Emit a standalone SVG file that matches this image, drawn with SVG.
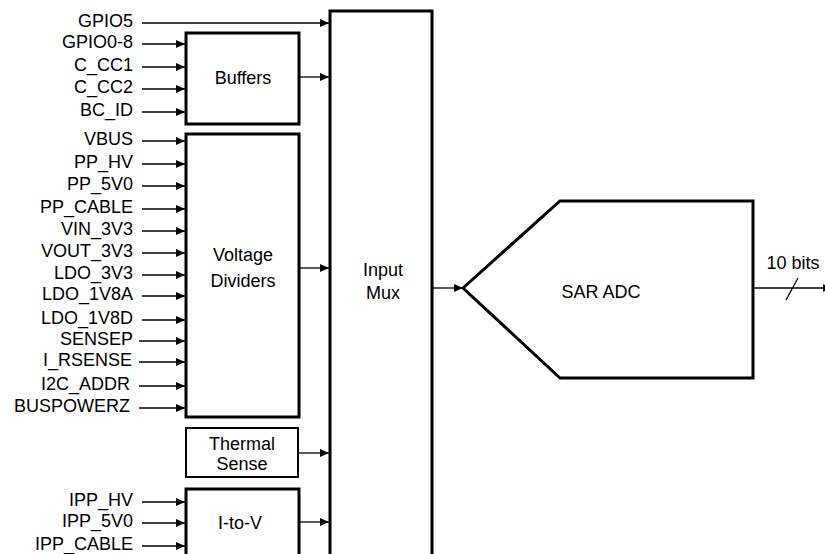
<svg xmlns="http://www.w3.org/2000/svg" width="825" height="554" viewBox="0 0 825 554">
<defs>
<marker id="ah" markerUnits="userSpaceOnUse" markerWidth="10" markerHeight="9" refX="9" refY="4" orient="auto">
<path d="M0,0 L9,4 L0,8 Z" fill="#000"/>
</marker>
<style>
text{font-family:"Liberation Sans",Arial,sans-serif;font-size:18px;fill:#000}
.lbl{text-anchor:end}
.c{text-anchor:middle}
.blk{fill:#fff;stroke:#000;stroke-width:3}
.thin{fill:#fff;stroke:#000;stroke-width:2}
.w{stroke:#000;stroke-width:1.3;fill:none}
.a{marker-end:url(#ah)}
</style>
</defs>
<rect width="825" height="554" fill="#fff"/>

<g id="input-mux">
<rect class="blk" x="330" y="11" width="102" height="560"/>
<text class="c" x="383" y="276">Input</text>
<text class="c" x="383" y="299">Mux</text>
</g>

<g id="buffers">
<rect class="blk" x="186" y="33" width="113" height="91"/>
<text class="c" x="243" y="84">Buffers</text>
</g>

<g id="voltage-dividers">
<rect class="blk" x="186" y="134" width="113" height="283"/>
<text class="c" x="243" y="261">Voltage</text>
<text class="c" x="243" y="287">Dividers</text>
</g>

<g id="thermal-sense">
<rect class="thin" x="186" y="428" width="112" height="49"/>
<text class="c" x="242" y="450">Thermal</text>
<text class="c" x="242" y="470">Sense</text>
</g>

<g id="i-to-v">
<rect class="blk" x="186" y="489" width="113" height="80"/>
<text class="c" x="240" y="529">I-to-V</text>
</g>

<g id="sar-adc">
<path class="blk" d="M463,288 L560,201 L753,201 L753,378 L560,378 Z"/>
<text class="c" x="601" y="298">SAR ADC</text>
</g>

<g id="labels">
<text class="lbl" x="133" y="27">GPIO5</text>
<text class="lbl" x="133" y="48">GPIO0-8</text>
<text class="lbl" x="133" y="71">C_CC1</text>
<text class="lbl" x="133" y="93">C_CC2</text>
<text class="lbl" x="133" y="116">BC_ID</text>
<text class="lbl" x="133" y="145">VBUS</text>
<text class="lbl" x="133" y="168">PP_HV</text>
<text class="lbl" x="133" y="190">PP_5V0</text>
<text class="lbl" x="133" y="213">PP_CABLE</text>
<text class="lbl" x="133" y="235">VIN_3V3</text>
<text class="lbl" x="133" y="257">VOUT_3V3</text>
<text class="lbl" x="133" y="279">LDO_3V3</text>
<text class="lbl" x="133" y="300">LDO_1V8A</text>
<text class="lbl" x="133" y="324">LDO_1V8D</text>
<text class="lbl" x="133" y="345">SENSEP</text>
<text class="lbl" x="132" y="366">I_RSENSE</text>
<text class="lbl" x="130" y="390">I2C_ADDR</text>
<text class="lbl" x="130" y="412">BUSPOWERZ</text>
<text class="lbl" x="133" y="506">IPP_HV</text>
<text class="lbl" x="133" y="527">IPP_5V0</text>
<text class="lbl" x="133" y="550">IPP_CABLE</text>
<text class="c" x="793" y="269">10 bits</text>
</g>

<g id="connectors">
<line class="w a" x1="142" y1="23" x2="329" y2="23"/>
<line class="w a" x1="142" y1="44" x2="185" y2="44"/>
<line class="w a" x1="142" y1="67" x2="185" y2="67"/>
<line class="w a" x1="142" y1="89" x2="185" y2="89"/>
<line class="w a" x1="142" y1="112" x2="185" y2="112"/>
<line class="w a" x1="142" y1="141" x2="185" y2="141"/>
<line class="w a" x1="142" y1="164" x2="185" y2="164"/>
<line class="w a" x1="142" y1="186" x2="185" y2="186"/>
<line class="w a" x1="142" y1="209" x2="185" y2="209"/>
<line class="w a" x1="142" y1="231" x2="185" y2="231"/>
<line class="w a" x1="142" y1="253" x2="185" y2="253"/>
<line class="w a" x1="142" y1="275" x2="185" y2="275"/>
<line class="w a" x1="142" y1="296" x2="185" y2="296"/>
<line class="w a" x1="142" y1="320" x2="185" y2="320"/>
<line class="w a" x1="139" y1="341" x2="185" y2="341"/>
<line class="w a" x1="139" y1="362" x2="185" y2="362"/>
<line class="w a" x1="139" y1="386" x2="185" y2="386"/>
<line class="w a" x1="139" y1="408" x2="185" y2="408"/>
<line class="w a" x1="142" y1="502" x2="185" y2="502"/>
<line class="w a" x1="142" y1="523" x2="185" y2="523"/>
<line class="w a" x1="142" y1="546" x2="185" y2="546"/>
<line class="w a" x1="300" y1="77" x2="329" y2="77"/>
<line class="w a" x1="300" y1="268" x2="329" y2="268"/>
<line class="w a" x1="299" y1="453" x2="329" y2="453"/>
<line class="w a" x1="300" y1="522" x2="329" y2="522"/>
<line class="w a" x1="433" y1="288" x2="463" y2="288"/>
<line class="w a" x1="754" y1="288" x2="832" y2="288"/>
<line class="w" x1="786" y1="300" x2="798" y2="278"/>
</g>
</svg>
